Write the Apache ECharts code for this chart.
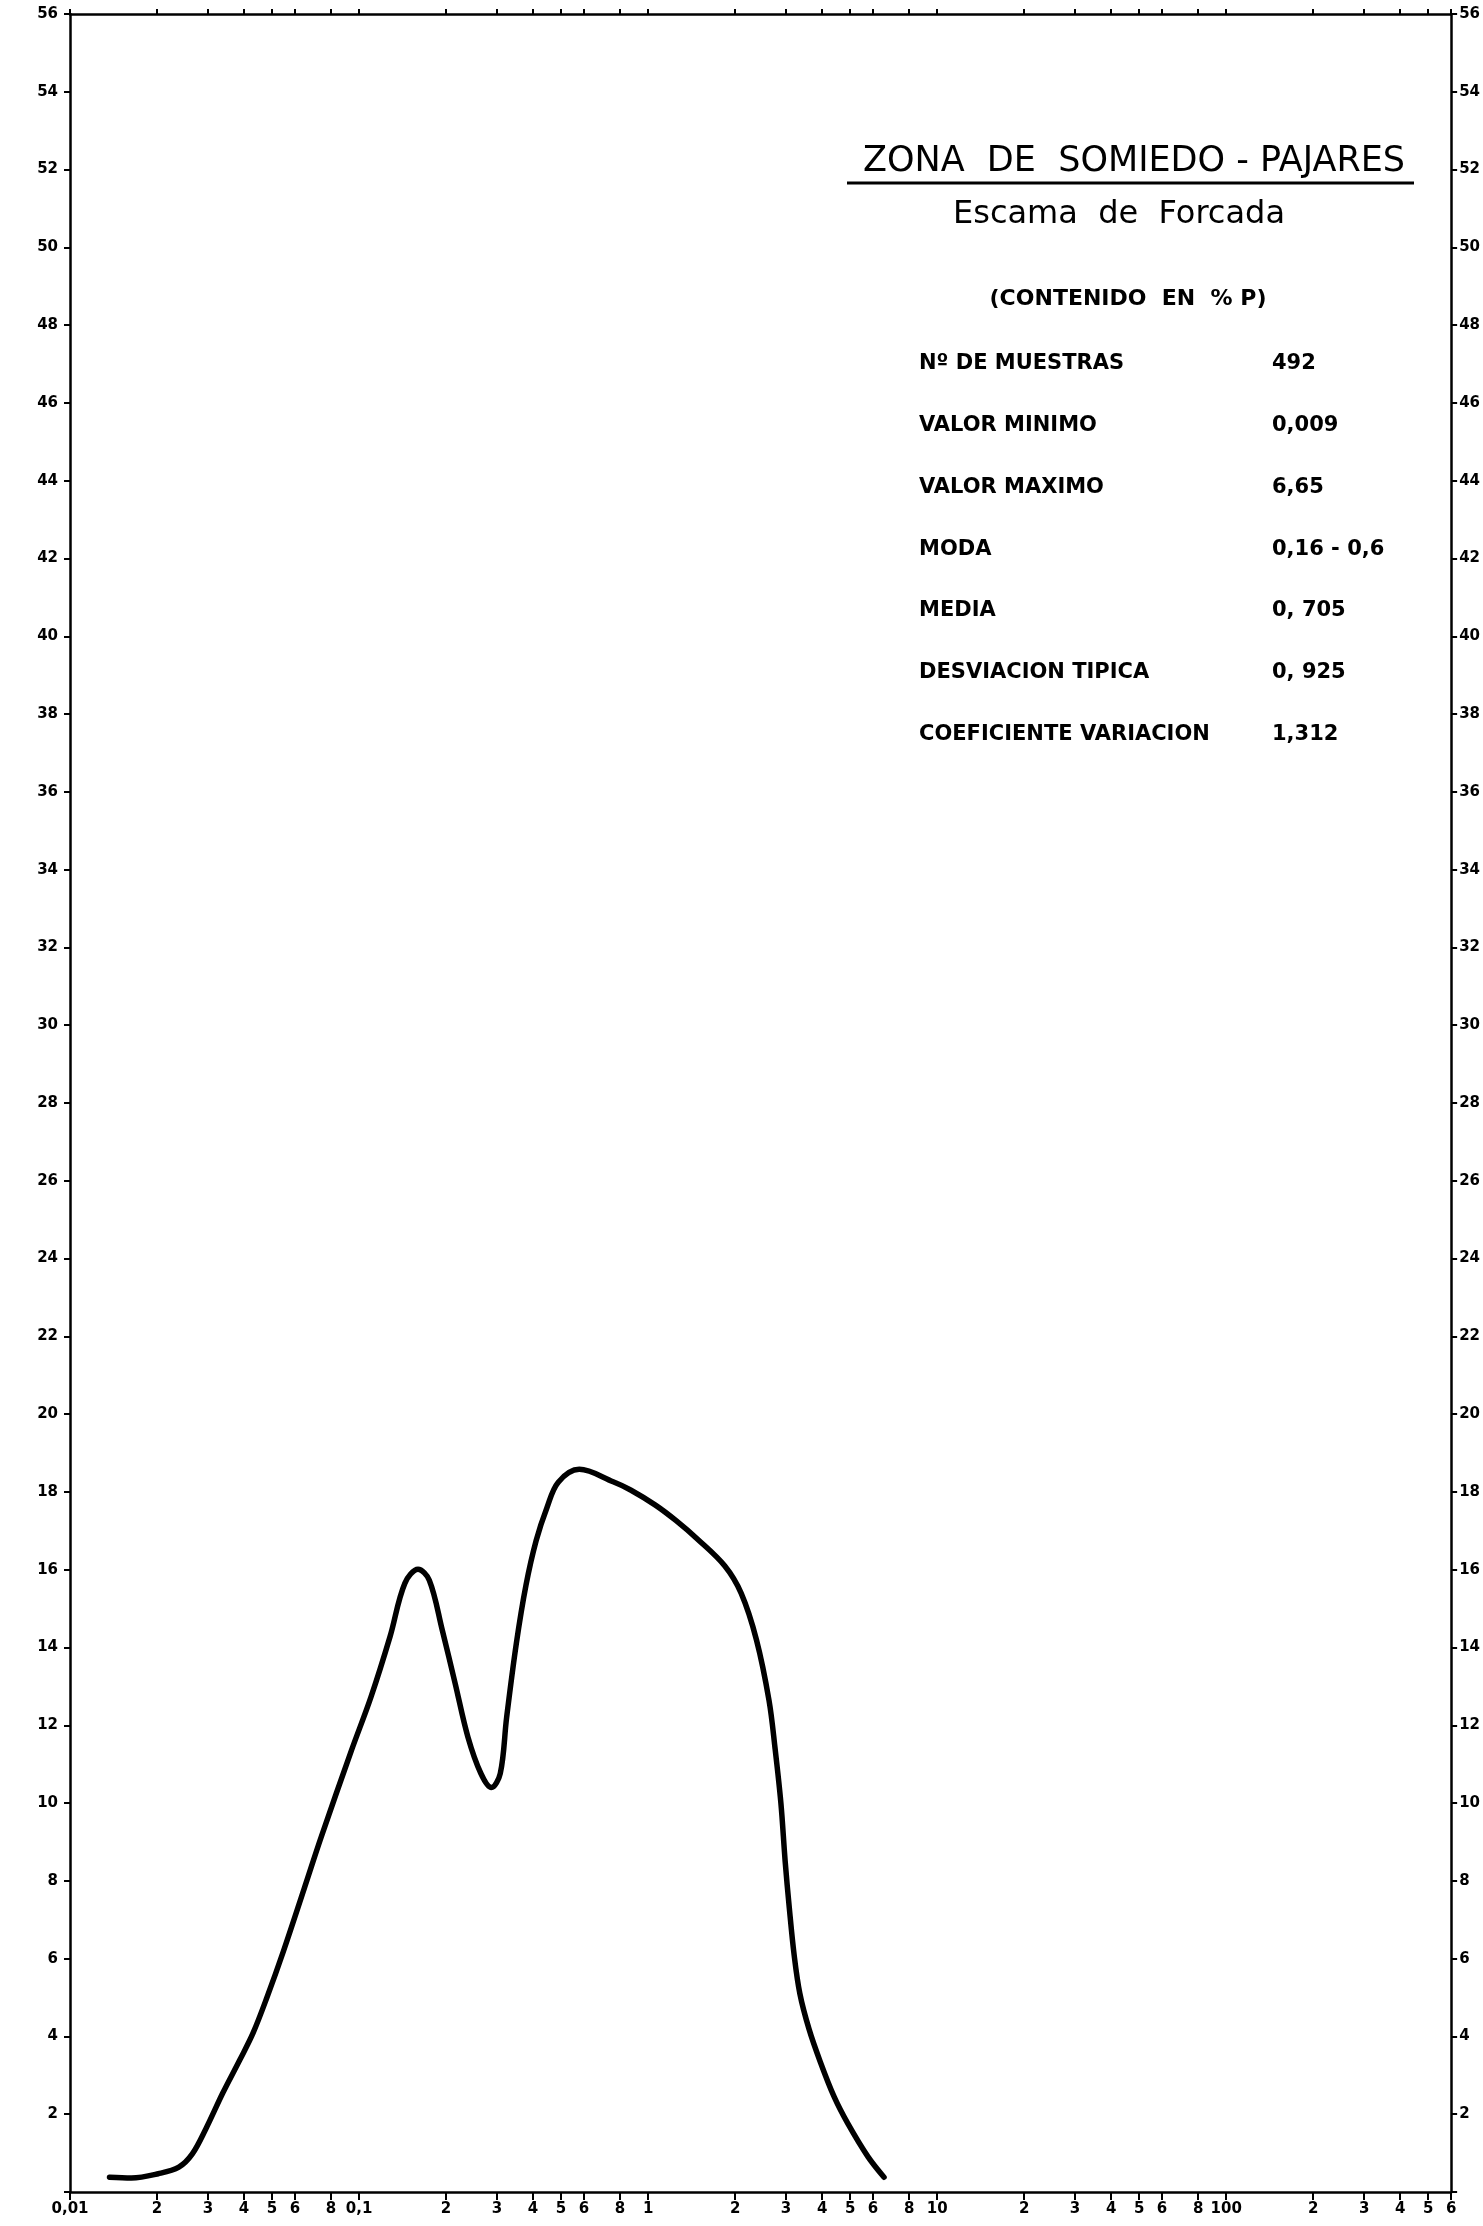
<!DOCTYPE html>
<html>
<head>
<meta charset="utf-8">
<script src="https://cdn.jsdelivr.net/npm/echarts@6/dist/echarts.min.js"></script>
<style>
  html, body { margin: 0; padding: 0; background: #fff; }
  #chart { width: 1483px; height: 2226px; }
</style>
</head>
<body>
<div id="chart"></div>
<script>
// ---- Data ----
// Content (% P) on log x-axis, frequency (%) on y-axis
var contentValues = [0.0137, 0.0163, 0.0202, 0.0238, 0.0265, 0.0295, 0.0338, 0.0387, 0.043, 0.048,
  0.0548, 0.0646, 0.074, 0.0942, 0.110, 0.128, 0.144, 0.160, 0.175, 0.194,
  0.215, 0.238, 0.264, 0.287, 0.308, 0.324, 0.350, 0.378, 0.410, 0.447,
  0.489, 0.578, 0.757, 0.87, 1.06, 1.25, 1.48, 1.84, 2.10, 2.37,
  2.62, 2.75, 2.88, 2.98, 3.08, 3.20, 3.35, 3.60, 3.94, 4.40,
  4.90, 5.76, 6.55];
var frequencyValues = [0.38, 0.36, 0.47, 0.64, 0.98, 1.62, 2.55, 3.4, 4.09, 5.0,
  6.2, 7.8, 9.13, 11.36, 12.73, 14.28, 15.65, 16.01, 15.73, 14.45,
  13.08, 11.70, 10.76, 10.40, 10.76, 12.2, 14.1, 15.6, 16.75, 17.6,
  18.25, 18.58, 18.26, 18.05, 17.66, 17.26, 16.79, 16.1, 15.39, 14.2,
  12.64, 11.4, 10.0, 8.5, 7.3, 6.1, 5.1, 4.2, 3.35, 2.45,
  1.77, 0.91, 0.38];

// x tick positions and their printed labels
var xTickValues = [0.01, 0.02, 0.03, 0.04, 0.05, 0.06, 0.08, 0.1, 0.2, 0.3, 0.4, 0.5, 0.6, 0.8,
  1, 2, 3, 4, 5, 6, 8, 10, 20, 30, 40, 50, 60, 80, 100, 200, 300, 400, 500, 600];
var xTickLabels = ['0,01', '2', '3', '4', '5', '6', '8', '0,1', '2', '3', '4', '5', '6', '8',
  '1', '2', '3', '4', '5', '6', '8', '10', '2', '3', '4', '5', '6', '8', '100', '2', '3', '4', '5', '6'];
var xMin = 0.01, xMax = 600;
var yMin = 0, yMax = 56, yStep = 2;

// Text block
var titleText = 'ZONA  DE  SOMIEDO - PAJARES';
var subtitleText = 'Escama  de  Forcada';
var unitText = '(CONTENIDO  EN  % P)';
var statLabels = ['Nº DE MUESTRAS', 'VALOR MINIMO', 'VALOR MAXIMO', 'MODA', 'MEDIA', 'DESVIACION TIPICA', 'COEFICIENTE VARIACION'];
var statValues = ['492', '0,009', '6,65', '0,16 - 0,6', '0, 705', '0, 925', '1,312'];

// ---- Build chart ----
var FONT = '"DejaVu Sans", "Liberation Sans", sans-serif';
var lineData = contentValues.map(function (v, i) { return [v, frequencyValues[i]]; });
var tickLogs = xTickValues.map(function (v) { return Math.log10(v); });

function xLabelFmt(v) {
  for (var i = 0; i < tickLogs.length; i++) {
    if (Math.abs(tickLogs[i] - v) < 1e-6) return xTickLabels[i];
  }
  return '';
}

var chart = echarts.init(document.getElementById('chart'), null, { renderer: 'canvas' });

var graphics = [
  { type: 'text', x: 1134, y: 162, style: { text: titleText, font: '35px ' + FONT, fill: '#000', textAlign: 'center', textVerticalAlign: 'middle' } },
  { type: 'line', shape: { x1: 847, y1: 183, x2: 1414, y2: 183 }, style: { stroke: '#000', lineWidth: 3 } },
  { type: 'text', x: 1119, y: 215, style: { text: subtitleText, font: '32px ' + FONT, fill: '#000', textAlign: 'center', textVerticalAlign: 'middle' } },
  { type: 'text', x: 1128, y: 299, style: { text: unitText, font: 'bold 22px ' + FONT, fill: '#000', textAlign: 'center', textVerticalAlign: 'middle' } }
];
statLabels.forEach(function (lab, i) {
  var y = 364 + 61.7 * i;
  graphics.push({ type: 'text', x: 919, y: y, style: { text: lab, font: 'bold 21px ' + FONT, fill: '#000', textAlign: 'left', textVerticalAlign: 'middle' } });
  graphics.push({ type: 'text', x: 1272, y: y, style: { text: statValues[i], font: 'bold 21px ' + FONT, fill: '#000', textAlign: 'left', textVerticalAlign: 'middle' } });
});

var axisLineStyle = { color: '#000', width: 2.5 };
var tickStyle = { color: '#000', width: 2 };

var option = {
  backgroundColor: '#fff',
  animation: false,
  grid: { left: 70, right: 20, top: 14, bottom: 34, containLabel: false },
  graphic: graphics,
  xAxis: [
    {
      type: 'log', logBase: 10, min: xMin, max: xMax, position: 'bottom', show: false
    },
    {
      type: 'value', min: Math.log10(xMin), max: Math.log10(xMax), position: 'bottom',
      axisLine: { show: true, onZero: false, lineStyle: axisLineStyle },
      axisTick: { show: true, inside: false, length: 8, lineStyle: tickStyle, customValues: tickLogs },
      axisLabel: {
        show: true, customValues: tickLogs, formatter: xLabelFmt, margin: 10,
        color: '#000', fontFamily: FONT, fontWeight: 'bold', fontSize: 15
      },
      splitLine: { show: false }
    },
    {
      type: 'value', min: Math.log10(xMin), max: Math.log10(xMax), position: 'top',
      axisLine: { show: true, onZero: false, lineStyle: axisLineStyle },
      axisTick: { show: true, inside: false, length: 5, lineStyle: tickStyle, customValues: tickLogs },
      axisLabel: { show: false },
      splitLine: { show: false }
    }
  ],
  yAxis: [
    {
      type: 'value', min: yMin, max: yMax, interval: yStep, position: 'left',
      axisLine: { show: true, onZero: false, lineStyle: axisLineStyle },
      axisTick: { show: true, inside: false, length: 6, lineStyle: tickStyle },
      axisLabel: {
        margin: 12, color: '#000', fontFamily: FONT, fontWeight: 'bold', fontSize: 15,
        formatter: function (v) { return v === 0 ? '' : String(v); }
      },
      splitLine: { show: false }
    },
    {
      type: 'value', min: yMin, max: yMax, interval: yStep, position: 'right',
      axisLine: { show: true, onZero: false, lineStyle: axisLineStyle },
      axisTick: { show: true, inside: false, length: 6, lineStyle: tickStyle },
      axisLabel: {
        margin: 8, color: '#000', fontFamily: FONT, fontWeight: 'bold', fontSize: 15,
        formatter: function (v) { return v === 0 ? '' : String(v); }
      },
      splitLine: { show: false }
    }
  ],
  series: [
    {
      type: 'line', xAxisIndex: 0, yAxisIndex: 0,
      data: lineData,
      showSymbol: false, symbol: 'none',
      smooth: 0.35,
      lineStyle: { color: '#000', width: 5.5, cap: 'round', join: 'round' },
      silent: true
    }
  ]
};
chart.setOption(option);
</script>
</body>
</html>
